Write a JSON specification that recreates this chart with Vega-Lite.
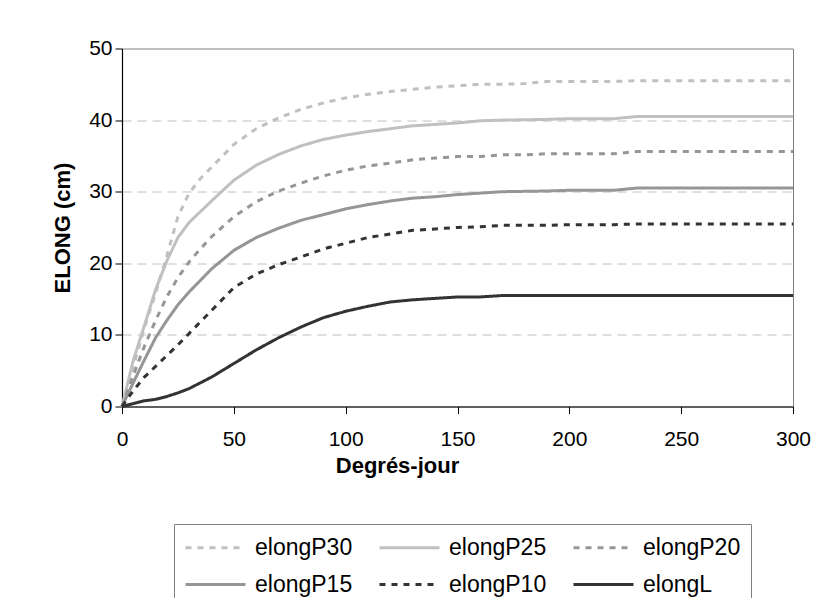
{
  "$schema": "https://vega.github.io/schema/vega-lite/v6.json",
  "width": 671,
  "height": 358,
  "autosize": {"type": "none"},
  "padding": {"left": 122, "top": 48.5, "right": 27, "bottom": 191.5},
  "background": "white",
  "config": {
    "font": "Liberation Sans",
    "view": {"stroke": "#808080", "strokeWidth": 1},
    "axis": {
      "domainColor": "black",
      "domainWidth": 1.2,
      "tickColor": "black",
      "tickSize": 7,
      "labelFont": "Liberation Sans",
      "labelFontSize": 21,
      "labelColor": "black",
      "titleFont": "Liberation Sans",
      "titleFontSize": 22,
      "titleFontWeight": "bold",
      "titleColor": "black"
    }
  },
  "data": {
    "values": [
      {"dj": 0, "elongP30": 0, "elongP25": 0, "elongP20": 0, "elongP15": 0, "elongP10": 0, "elongL": 0},
      {"dj": 5, "elongP30": 5.5, "elongP25": 6.4, "elongP20": 4.3, "elongP15": 3.3, "elongP10": 2.2, "elongL": 0.4},
      {"dj": 10, "elongP30": 11, "elongP25": 11.3, "elongP20": 8.4, "elongP15": 6.5, "elongP10": 4.1, "elongL": 0.8},
      {"dj": 15, "elongP30": 15.8, "elongP25": 16.3, "elongP20": 12, "elongP15": 9.6, "elongP10": 5.6, "elongL": 1.0},
      {"dj": 20, "elongP30": 21, "elongP25": 20.3, "elongP20": 15.3, "elongP15": 12, "elongP10": 7.1, "elongL": 1.4},
      {"dj": 25, "elongP30": 26.5, "elongP25": 23.6, "elongP20": 18, "elongP15": 14.2, "elongP10": 8.6, "elongL": 1.9},
      {"dj": 30, "elongP30": 29.8, "elongP25": 25.7, "elongP20": 20.2, "elongP15": 16, "elongP10": 10.2, "elongL": 2.5},
      {"dj": 35, "elongP30": 31.8, "elongP25": 27.2, "elongP20": 22, "elongP15": 17.6, "elongP10": 11.8, "elongL": 3.3},
      {"dj": 40, "elongP30": 33.4, "elongP25": 28.7, "elongP20": 23.7, "elongP15": 19.2, "elongP10": 13.4, "elongL": 4.1},
      {"dj": 50, "elongP30": 36.6, "elongP25": 31.6, "elongP20": 26.5, "elongP15": 21.8, "elongP10": 16.6, "elongL": 6.0},
      {"dj": 60, "elongP30": 38.8, "elongP25": 33.7, "elongP20": 28.6, "elongP15": 23.6, "elongP10": 18.5, "elongL": 7.9},
      {"dj": 70, "elongP30": 40.3, "elongP25": 35.2, "elongP20": 30.1, "elongP15": 24.9, "elongP10": 19.8, "elongL": 9.6},
      {"dj": 80, "elongP30": 41.5, "elongP25": 36.4, "elongP20": 31.2, "elongP15": 26, "elongP10": 20.9, "elongL": 11.1},
      {"dj": 90, "elongP30": 42.4, "elongP25": 37.3, "elongP20": 32.2, "elongP15": 26.8, "elongP10": 22, "elongL": 12.4},
      {"dj": 100, "elongP30": 43.1, "elongP25": 37.9, "elongP20": 33.0, "elongP15": 27.6, "elongP10": 22.8, "elongL": 13.3},
      {"dj": 110, "elongP30": 43.6, "elongP25": 38.4, "elongP20": 33.6, "elongP15": 28.2, "elongP10": 23.6, "elongL": 14.0},
      {"dj": 120, "elongP30": 44.0, "elongP25": 38.8, "elongP20": 34.0, "elongP15": 28.7, "elongP10": 24.1, "elongL": 14.6},
      {"dj": 130, "elongP30": 44.3, "elongP25": 39.2, "elongP20": 34.45, "elongP15": 29.1, "elongP10": 24.6, "elongL": 14.9},
      {"dj": 140, "elongP30": 44.6, "elongP25": 39.4, "elongP20": 34.7, "elongP15": 29.3, "elongP10": 24.8, "elongL": 15.1},
      {"dj": 150, "elongP30": 44.8, "elongP25": 39.6, "elongP20": 34.9, "elongP15": 29.6, "elongP10": 25.0, "elongL": 15.3},
      {"dj": 160, "elongP30": 45.0, "elongP25": 39.9, "elongP20": 34.9, "elongP15": 29.8, "elongP10": 25.1, "elongL": 15.3},
      {"dj": 170, "elongP30": 45.0, "elongP25": 40.0, "elongP20": 35.15, "elongP15": 30.0, "elongP10": 25.3, "elongL": 15.5},
      {"dj": 180, "elongP30": 45.1, "elongP25": 40.05, "elongP20": 35.15, "elongP15": 30.05, "elongP10": 25.3, "elongL": 15.5},
      {"dj": 190, "elongP30": 45.4, "elongP25": 40.1, "elongP20": 35.3, "elongP15": 30.1, "elongP10": 25.3, "elongL": 15.5},
      {"dj": 200, "elongP30": 45.4, "elongP25": 40.2, "elongP20": 35.3, "elongP15": 30.2, "elongP10": 25.4, "elongL": 15.5},
      {"dj": 210, "elongP30": 45.4, "elongP25": 40.2, "elongP20": 35.3, "elongP15": 30.2, "elongP10": 25.4, "elongL": 15.5},
      {"dj": 220, "elongP30": 45.4, "elongP25": 40.2, "elongP20": 35.3, "elongP15": 30.2, "elongP10": 25.4, "elongL": 15.5},
      {"dj": 230, "elongP30": 45.5, "elongP25": 40.5, "elongP20": 35.6, "elongP15": 30.5, "elongP10": 25.5, "elongL": 15.5},
      {"dj": 240, "elongP30": 45.5, "elongP25": 40.5, "elongP20": 35.6, "elongP15": 30.5, "elongP10": 25.5, "elongL": 15.5},
      {"dj": 250, "elongP30": 45.5, "elongP25": 40.5, "elongP20": 35.6, "elongP15": 30.5, "elongP10": 25.5, "elongL": 15.5},
      {"dj": 260, "elongP30": 45.5, "elongP25": 40.5, "elongP20": 35.6, "elongP15": 30.5, "elongP10": 25.5, "elongL": 15.5},
      {"dj": 270, "elongP30": 45.5, "elongP25": 40.5, "elongP20": 35.6, "elongP15": 30.5, "elongP10": 25.5, "elongL": 15.5},
      {"dj": 280, "elongP30": 45.5, "elongP25": 40.5, "elongP20": 35.6, "elongP15": 30.5, "elongP10": 25.5, "elongL": 15.5},
      {"dj": 290, "elongP30": 45.5, "elongP25": 40.5, "elongP20": 35.6, "elongP15": 30.5, "elongP10": 25.5, "elongL": 15.5},
      {"dj": 300, "elongP30": 45.5, "elongP25": 40.5, "elongP20": 35.6, "elongP15": 30.5, "elongP10": 25.5, "elongL": 15.5}
    ]
  },
  "transform": [
    {"fold": ["elongP30", "elongP25", "elongP20", "elongP15", "elongP10", "elongL"], "as": ["serie", "elong"]}
  ],
  "mark": {"type": "line", "strokeCap": "butt"},
  "encoding": {
    "x": {
      "field": "dj",
      "type": "quantitative",
      "scale": {"domain": [0, 300], "nice": false},
      "axis": {
        "values": [0, 50, 100, 150, 200, 250, 300],
        "title": "Degrés-jour",
        "titleX": 275,
        "titleAnchor": "start",
        "titleAlign": "center",
        "grid": false,
        "labelPadding": 15,
        "titlePadding": 6,
        "labelFlush": false
      }
    },
    "y": {
      "field": "elong",
      "type": "quantitative",
      "scale": {"domain": [0, 50], "nice": false},
      "axis": {
        "values": [0, 10, 20, 30, 40, 50],
        "title": "ELONG (cm)",
        "grid": true,
        "gridColor": "#c0c0c0",
        "gridDash": [9, 6],
        "gridWidth": 1,
        "labelPadding": 3,
        "titlePadding": 14,
        "labelFlush": false
      }
    },
    "color": {
      "field": "serie",
      "type": "ordinal",
      "sort": ["elongP30", "elongP25", "elongP20", "elongP15", "elongP10", "elongL"],
      "scale": {
        "domain": ["elongP30", "elongP25", "elongP20", "elongP15", "elongP10", "elongL"],
        "range": ["#c0c0c0", "#c0c0c0", "#969696", "#969696", "#333333", "#333333"]
      },
      "legend": {
        "orient": "none",
        "legendX": 52,
        "legendY": 475.5,
        "direction": "horizontal",
        "columns": 3,
        "title": null,
        "symbolType": "M-1,0H4",
        "symbolSize": 576,
        "labelFont": "Liberation Sans",
        "labelFontSize": 23,
        "labelColor": "black",
        "labelOffset": 44,
        "strokeColor": "#808080",
        "fillColor": "white",
        "padding": 10,
        "columnPadding": 20,
        "rowPadding": 11
      }
    },
    "strokeDash": {
      "field": "serie",
      "type": "ordinal",
      "sort": ["elongP30", "elongP25", "elongP20", "elongP15", "elongP10", "elongL"],
      "scale": {
        "domain": ["elongP30", "elongP25", "elongP20", "elongP15", "elongP10", "elongL"],
        "range": [[6, 6], [1, 0], [6, 6], [1, 0], [6, 6], [1, 0]]
      }
    },
    "strokeWidth": {
      "field": "serie",
      "type": "ordinal",
      "sort": ["elongP30", "elongP25", "elongP20", "elongP15", "elongP10", "elongL"],
      "scale": {
        "domain": ["elongP30", "elongP25", "elongP20", "elongP15", "elongP10", "elongL"],
        "range": [3, 3, 3, 3, 3.5, 5]
      }
    }
  }
}
